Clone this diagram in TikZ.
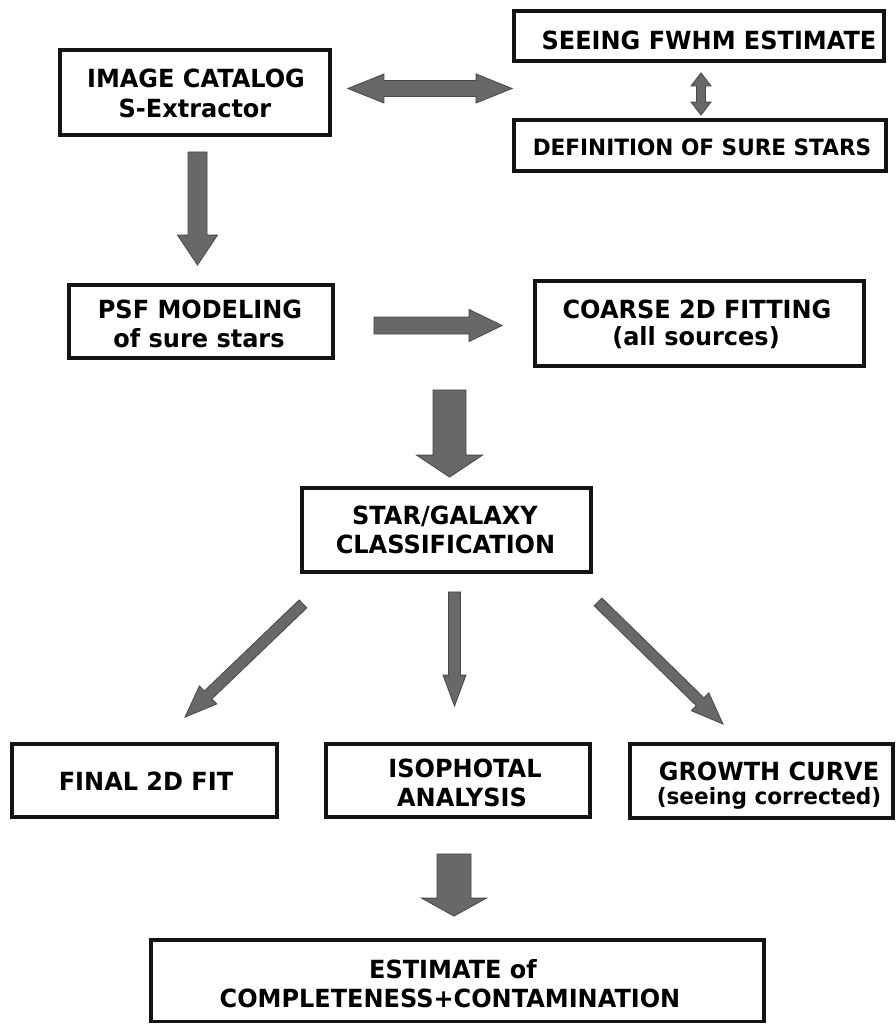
\documentclass[tikz,border=0pt]{standalone}
\usepackage{fontspec}
\setmainfont{DejaVu Sans}[FakeStretch=0.96]
\usetikzlibrary{calc}
\definecolor{arrowgray}{RGB}{104,104,104}
\definecolor{arrowedge}{RGB}{72,72,72}
\definecolor{boxline}{RGB}{20,20,20}
\tikzset{
  box/.style={draw=boxline, line width=3.8pt, rectangle, inner sep=0pt},
  txt/.style={inner sep=0pt, anchor=base, font=\fontsize{25}{30}\selectfont\bfseries},
  smalltxt/.style={inner sep=0pt, anchor=base, font=\fontsize{22.5}{27}\selectfont\bfseries},
  arrowfill/.style={fill=arrowgray, draw=arrowedge, line width=0.8pt, line join=miter}
}
% single block arrow: #1 start, #2 tip, #3 half shaft width, #4 half head width, #5 head length
\newcommand\blkarrow[5]{%
  \path ($(#2)!#5!(#1)$) coordinate (bh);
  \filldraw[arrowfill] ($(#1)!#3!90:(#2)$) -- ($(bh)!#3!90:(#2)$) -- ($(bh)!#4!90:(#2)$) -- (#2)
    -- ($(bh)!#4!-90:(#2)$) -- ($(bh)!#3!-90:(#2)$) -- ($(#1)!#3!-90:(#2)$) -- cycle;}
% double block arrow
\newcommand\dblarrow[5]{%
  \path ($(#1)!#5!(#2)$) coordinate (ha) ($(#2)!#5!(#1)$) coordinate (hb);
  \filldraw[arrowfill] (#1) -- ($(ha)!#4!90:(#2)$) -- ($(ha)!#3!90:(#2)$) -- ($(hb)!#3!-90:(#1)$)
    -- ($(hb)!#4!-90:(#1)$) -- (#2) -- ($(hb)!#4!90:(#1)$) -- ($(hb)!#3!90:(#1)$)
    -- ($(ha)!#3!-90:(#2)$) -- ($(ha)!#4!-90:(#2)$) -- cycle;}
\begin{document}
\begin{tikzpicture}[x=1pt,y=-1pt]
\useasboundingbox (0,0) rectangle (895,1025);
\fill[white] (0,0) rectangle (895,1025);
% boxes
\node[box, minimum width=270.5pt, minimum height=85.5pt] (cat) at (195,92.5) {};
\node[box, minimum width=370.5pt, minimum height=50.5pt] (seeing) at (699,36) {};
\node[box, minimum width=372.5pt, minimum height=51.5pt] (def) at (700,145.5) {};
\node[box, minimum width=264.5pt, minimum height=73.5pt] (psf) at (201,321.5) {};
\node[box, minimum width=329.5pt, minimum height=85.5pt] (coarse) at (699.5,323.5) {};
\node[box, minimum width=289.5pt, minimum height=84.5pt] (star) at (446.5,530) {};
\node[box, minimum width=265.5pt, minimum height=73.5pt] (final) at (144.5,780.5) {};
\node[box, minimum width=264.5pt, minimum height=73.5pt] (iso) at (458,780.5) {};
\node[box, minimum width=263.5pt, minimum height=74.5pt] (growth) at (761.5,781) {};
\node[box, minimum width=613.5pt, minimum height=81.75pt] (est) at (457.5,980.6) {};
% texts
\node[txt] (tcat1) at (196,87) {IMAGE CATALOG};
\node[txt] (tcat2) at (195,117) {S-Extractor};
\node[txt] (tsee) at (709,50) {SEEING FWHM ESTIMATE};
\node[smalltxt] (tdef) at (702,155) {DEFINITION OF SURE STARS};
\node[txt] (tpsf1) at (200,318) {PSF MODELING};
\node[txt] (tpsf2) at (199,347) {of sure stars};
\node[txt] (tco1) at (697,318) {COARSE 2D FITTING};
\node[txt] (tco2) at (696,345) {(all sources)};
\node[txt] (tst1) at (445,524) {STAR/GALAXY};
\node[txt] (tst2) at (445.5,553) {CLASSIFICATION};
\node[txt] (tfin) at (146,790) {FINAL 2D FIT};
\node[txt] (tiso1) at (465,777) {ISOPHOTAL};
\node[txt] (tiso2) at (462,806) {ANALYSIS};
\node[txt] (tgr1) at (769,780) {GROWTH CURVE};
\node[smalltxt] (tgr2) at (769,804) {(seeing corrected)};
\node[txt] (test1) at (453,978) {ESTIMATE of};
\node[txt] (test2) at (450,1007) {COMPLETENESS+CONTAMINATION};
% arrow end points
\coordinate (a1s) at ($(cat.south)+(2.5,14.75)$);
\coordinate (a1e) at ($(psf.north)+(-3.5,-17.75)$);
\coordinate (a2s) at ($(cat.east)+(15.75,-4)$);
\coordinate (a2e) at ($($(seeing.south west)!0.5!(def.north west)$)+(0.25,-2)$);
\coordinate (a3s) at ($(seeing.south)+(2,9.75)$);
\coordinate (a3e) at ($(def.north)+(1,-2.75)$);
\coordinate (a4s) at ($(psf.east)+(38.75,4)$);
\coordinate (a4e) at ($(coarse.west)+(-30.75,2)$);
\coordinate (a5s) at ($($(psf.south east)!0.5!(coarse.south west)$)+(15.5,25.75)$);
\coordinate (a5e) at ($(star.north)+(3,-8.75)$);
\coordinate (a6s) at ($(star.south)+(-143.5,29.75)$);
\coordinate (a6e) at ($(final.north)+(40.5,-24.75)$);
\coordinate (a7s) at ($(star.south)+(8,17.75)$);
\coordinate (a7e) at ($(iso.north)+(-3.5,-35.75)$);
\coordinate (a8s) at ($(star.south)+(151.5,27.75)$);
\coordinate (a8e) at ($(growth.north)+(-38.5,-17.75)$);
\coordinate (a9s) at ($(iso.south)+(-4,34.75)$);
\coordinate (a9e) at ($(est.north)+(-3.5,-21.725)$);
% arrows
\blkarrow{a1s}{a1e}{9.5pt}{20pt}{30pt}
\dblarrow{a2s}{a2e}{8pt}{14.5pt}{36pt}
\dblarrow{a3s}{a3e}{4.5pt}{10pt}{13pt}
\blkarrow{a4s}{a4e}{8.5pt}{16pt}{33pt}
\blkarrow{a5s}{a5e}{16.5pt}{33pt}{22pt}
\blkarrow{a6s}{a6e}{5.5pt}{12.5pt}{32pt}
\blkarrow{a7s}{a7e}{6pt}{11.5pt}{31pt}
\blkarrow{a8s}{a8e}{5.5pt}{12.5pt}{32pt}
\blkarrow{a9s}{a9e}{17pt}{32.5pt}{18pt}
\end{tikzpicture}
\end{document}
